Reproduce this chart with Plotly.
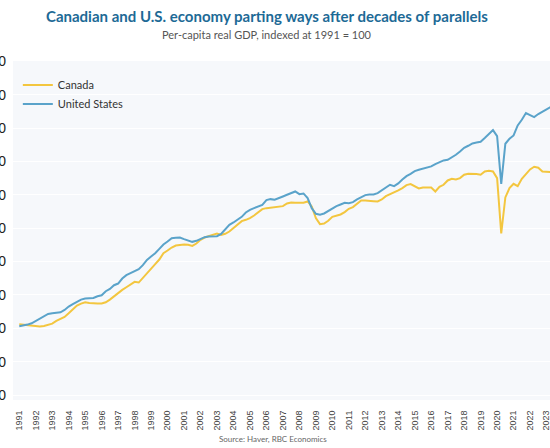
import plotly.graph_objects as go

years = list(range(1991, 2024))
tick_labels = [str(y) for y in years]

canada = [
    101.2, 101.1, 101.0, 100.9,
    100.6, 100.5, 100.7, 101.0,
    101.4, 102.2, 102.8, 103.4,
    104.5, 105.8, 106.8, 107.4,
    107.8, 107.6, 107.4, 107.4,
    107.4, 107.8, 108.6, 109.6,
    110.6, 111.5, 112.3, 113.0,
    113.9, 113.7, 115.0, 116.6,
    117.8, 119.2, 120.6, 122.5,
    123.3, 124.2, 124.8, 125.0,
    125.1, 125.0, 124.7, 125.4,
    126.5, 127.2, 127.6, 128.0,
    128.4, 128.0, 128.3, 129.0,
    130.0, 131.0, 132.1, 132.5,
    133.0, 133.8, 134.8, 135.7,
    136.0, 136.1, 136.2, 136.3,
    136.6, 137.4, 137.7, 137.6,
    137.5, 137.6, 138.0, 136.5,
    133.0, 131.2, 131.4, 132.2,
    133.4, 133.7, 134.1, 134.8,
    135.8, 136.3, 137.2, 138.3,
    138.3, 138.3, 138.1, 138.0,
    138.6, 139.6, 140.1, 140.8,
    141.3, 142.0, 142.9, 143.2,
    142.5, 141.9, 142.2, 142.2,
    142.2, 141.0, 142.4, 143.0,
    144.3, 144.8, 144.6, 145.0,
    146.0, 146.3, 146.3, 146.2,
    146.0, 147.0, 147.2, 147.0,
    145.0, 128.4, 139.2, 142.0,
    143.3, 142.6, 144.8, 146.3,
    147.6, 148.4, 148.1, 147.0,
    146.9, 146.8,
]

united_states = [
    100.6, 100.8, 101.1, 101.5,
    102.2, 103.0, 103.8, 104.3,
    104.5, 104.7, 104.8, 105.5,
    106.5, 107.2, 107.9, 108.6,
    108.9, 108.9, 109.1, 109.6,
    109.9, 111.1, 111.8, 112.9,
    113.4, 114.9, 115.9, 116.5,
    117.0, 117.7, 118.9, 120.5,
    121.5, 122.5, 123.8, 125.1,
    126.0, 127.0, 127.1, 127.2,
    126.7, 126.3, 125.9, 126.2,
    126.8, 127.3, 127.5, 127.5,
    127.6, 128.3, 129.8, 131.0,
    131.7, 132.5, 133.4, 134.7,
    135.5, 136.0, 136.6, 137.0,
    138.4, 138.7, 138.5, 139.1,
    139.5, 140.0, 140.6, 141.0,
    140.2, 140.4, 139.0, 136.0,
    134.3, 134.0, 134.4, 135.2,
    135.9, 136.6, 137.1, 137.6,
    137.5, 137.8, 138.6, 139.3,
    139.9, 140.1, 140.1, 140.5,
    141.3, 142.1, 143.0, 142.6,
    143.4, 144.6, 145.6, 146.3,
    147.1, 147.5, 147.9, 148.1,
    148.5, 149.2, 149.7, 150.3,
    150.5, 151.2, 152.0, 153.0,
    154.1, 154.7, 155.4, 155.7,
    155.9, 157.0, 158.2, 159.4,
    157.6, 143.3, 155.3, 156.8,
    157.8, 160.8, 162.5, 164.5,
    163.9, 163.3, 164.2, 165.0,
    165.6, 166.3,
]

y_ticks = list(range(80, 190, 10))

# quarterly time positions
n = len(canada)
x = [1991 + i / 4 for i in range(n)]

fig = go.Figure()
fig.add_trace(go.Scatter(x=x, y=canada, mode="lines", name="Canada",
                         line=dict(color="#f3c63f", width=2)))
fig.add_trace(go.Scatter(x=x, y=united_states, mode="lines", name="United States",
                         line=dict(color="#5aa3ca", width=2)))

fig.update_layout(
    width=550, height=448,
    margin=dict(l=13, r=0, t=61, b=48),
    paper_bgcolor="white",
    plot_bgcolor="#f6f8fb",
    showlegend=True,
    legend=dict(x=0.009, y=0.972, xanchor="left", yanchor="top",
                bgcolor="rgba(0,0,0,0)", font=dict(family="Lato", size=11, color="#333"),
                tracegroupgap=0),
    font=dict(family="Lato"),
)

fig.update_xaxes(
    range=[1990.62, 2023.21],
    tickmode="array", tickvals=years, ticktext=tick_labels,
    tickangle=-90, showgrid=False, zeroline=False, showline=False,
    ticks="outside", ticklen=6, tickcolor="rgba(0,0,0,0)",
    tickfont=dict(family="Liberation Sans", size=9, color="#444"),
    ticklabeloverflow="allow",
    automargin=False,
)
fig.update_yaxes(
    range=[78.5, 180.1],
    tickmode="array", tickvals=y_ticks,
    showgrid=True, gridcolor="white", gridwidth=1, zeroline=False, showline=False,
    ticks="", ticklabelstandoff=6,
    tickfont=dict(family="Liberation Sans", size=14, color="#222"),
    ticklabeloverflow="allow",
    automargin=False,
)

fig.add_annotation(text="<b>Canadian and U.S. economy parting ways after decades of parallels</b>",
                   xref="paper", yref="paper", x=0.473, y=1.1327, xanchor="center", yanchor="middle",
                   showarrow=False, font=dict(family="Lato", size=15, color="#1d6a96"))
fig.add_annotation(text="Per-capita real GDP, indexed at 1991 = 100",
                   xref="paper", yref="paper", x=0.473, y=1.0796, xanchor="center", yanchor="middle",
                   showarrow=False, font=dict(family="Lato", size=11, color="#555"))
fig.add_annotation(text="Source: Haver, RBC Economics",
                   xref="paper", yref="paper", x=0.484, y=-0.115, xanchor="center", yanchor="middle",
                   showarrow=False, font=dict(family="Lato", size=8, color="#666"))

fig.write_html("out.html", config={"displayModeBar": False})

with open("out.html", "r", encoding="utf-8") as f:
    html = f.read()
html = html.replace("<head>", "<head><style>body{margin:0;}</style>", 1)
with open("out.html", "w", encoding="utf-8") as f:
    f.write(html)
